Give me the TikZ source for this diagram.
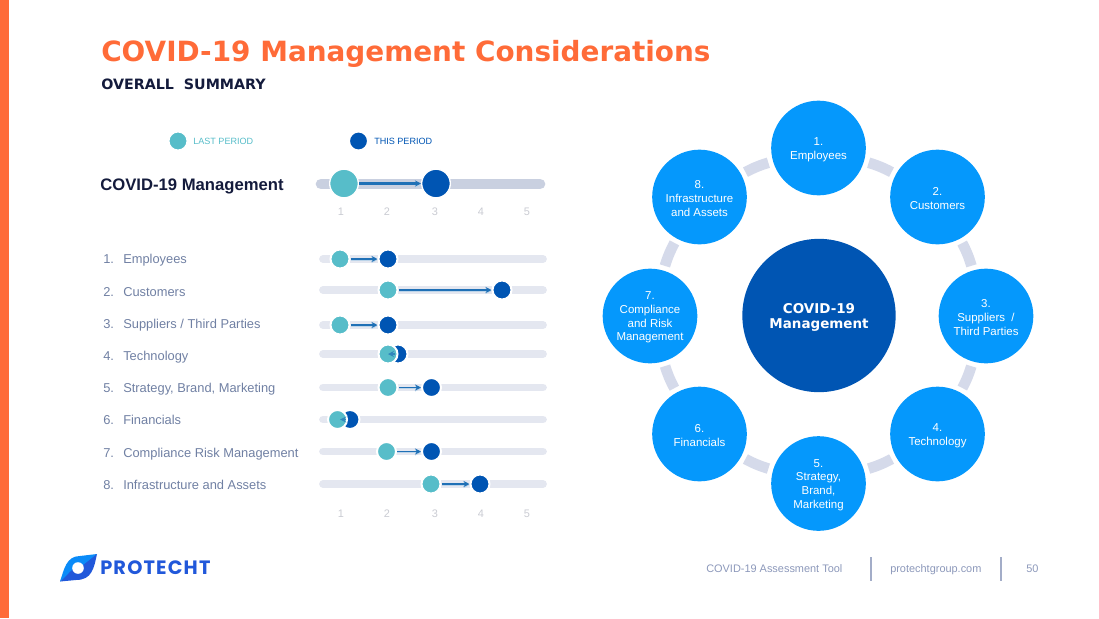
\documentclass[tikz,border=0pt]{standalone}
\usepackage{fontspec}
\setmainfont{Liberation Sans}
\newfontfamily\headfont{DejaVu Sans}
\newfontfamily\logofont[LetterSpace=6]{Poppins}
\usetikzlibrary{arrows.meta}
\definecolor{accent}{HTML}{FF6B38}
\definecolor{inkdark}{HTML}{141B3C}
\definecolor{lastcol}{HTML}{57BDC9}
\definecolor{thiscol}{HTML}{0055B3}
\definecolor{ringcol}{HTML}{0598FC}
\definecolor{linkcol}{HTML}{D5DAEA}
\definecolor{trackcol}{HTML}{E4E7F0}
\definecolor{maintrack}{HTML}{C9D0E0}
\definecolor{listcol}{HTML}{7080A3}
\definecolor{tickcol}{HTML}{C9CBD2}
\definecolor{footcol}{HTML}{8C98BA}
\definecolor{trendcol}{HTML}{1F70B6}
\definecolor{logocol}{HTML}{2158DA}
\definecolor{logolight}{HTML}{0A8BF8}
\tikzset{
	listlabel/.style={anchor=base west, inner sep=0pt, text=listcol, font=\fontsize{9.65pt}{11pt}\selectfont},
	ticklabel/.style={inner sep=0pt, text=tickcol, font=\fontsize{8.2pt}{10pt}\selectfont},
	footlabel/.style={anchor=base west, inner sep=0pt, text=footcol, font=\fontsize{8.2pt}{10pt}\selectfont},
	lastdot/.style={circle, fill=lastcol, draw=white, line width=1.5pt, inner sep=0pt, minimum size=14.25pt},
	thisdot/.style={circle, fill=thiscol, draw=white, line width=1.5pt, inner sep=0pt, minimum size=14.25pt},
	bigdot/.style={minimum size=21.5pt, line width=1pt},
	spoke/.style={circle, fill=ringcol, inner sep=0pt, minimum size=71pt},
	spoketext/.style={inner sep=0pt, align=center, text=white, font=\fontsize{8.6pt}{10.3pt}\selectfont},
	ringlink/.style={draw=linkcol, line width=8pt, shorten <=3.5pt, shorten >=3.5pt},
	track/.style={draw=trackcol, line width=5.8pt, line cap=round},
	trend/.style={draw=trendcol, line width=1.2pt, -{Stealth[length=4.5pt,width=4.5pt]}, preaction={draw=trendcol!30, transform canvas={yshift=-.8pt}}},
}
\begin{document}
\begin{tikzpicture}[x=.75pt, y=-.75pt]
	\useasboundingbox (0,0) rectangle (1099,618);
	\fill[accent] (0,0) rectangle (8.5,618);

	\node[anchor=west, inner sep=0pt, text=accent, font=\headfont\bfseries\fontsize{20.9pt}{24pt}\selectfont] (title) at (101,54) {COVID-19 Management Considerations};
	\node[anchor=west, inner sep=0pt, text=inkdark, font=\headfont\bfseries\fontsize{10.7pt}{13pt}\selectfont] (subtitle) at (101,84) {OVERALL\ \ SUMMARY};

	\node[lastdot] (keylast) at (178,141) {};
	\node[anchor=west, inner sep=0pt, text=lastcol, font=\fontsize{6.8pt}{9pt}\selectfont] (keylasttext) at (193,141) {LAST PERIOD};
	\node[thisdot] (keythis) at (358.5,141) {};
	\node[anchor=west, inner sep=0pt, text=thiscol, font=\fontsize{6.8pt}{9pt}\selectfont] (keythistext) at (374,141) {THIS PERIOD};

	\node[anchor=west, inner sep=0pt, text=inkdark, font=\bfseries\fontsize{12.5pt}{15pt}\selectfont] (mainlabel) at (100,186) {COVID-19 Management};
	\draw[track, draw=maintrack, line width=8pt] (321,184) -- (540,184);
	\node[lastdot, bigdot] (mainlast) at (344,183.5) {};
	\node[thisdot, bigdot] (mainthis) at (436,183.5) {};
	\draw[trend, line width=1.6pt] (mainlast) -- (mainthis);

	\foreach \i/\x in {1/341,2/387,3/435,4/481,5/527}{
		\node[ticklabel] (toptick\i) at (\x,211.5) {\i};
		\node[ticklabel] (lowtick\i) at (\x,513.5) {\i};
	}

	\foreach \i/\txt/\ty/\by/\lastx/\thisx in {
		1/Employees/259/259/340/388,
		2/Customers/292/290/388/502,
		3/{Suppliers / Third Parties}/324/325/340/388,
		4/Technology/356/354/388/398,
		5/{Strategy, Brand, Marketing}/388/387.5/388/431.5,
		6/Financials/420/419.5/337.5/350,
		7/Compliance Risk Management/453/451.5/386.5/431.5,
		8/Infrastructure and Assets/484.5/484/431/480}{
		\node[listlabel] (num\i) at (103,\ty+4.5) {\i.};
		\node[listlabel] (item\i) at (123,\ty+4.5) {\txt};
		\draw[track] (323,\by) -- (543,\by);
		\node[thisdot] (this\i) at (\thisx,\by) {};
		\node[lastdot] (last\i) at (\lastx,\by) {};
	}
	\foreach \i in {1,2,3,5,7,8}
	\draw[trend] (last\i) -- (this\i);
	\draw[draw=trendcol!70!lastcol, line width=1pt, -{Stealth[length=4.5pt,width=4.5pt]}, shorten <=2.2pt] (this4.center) -- (last4.center);
	\draw[draw=trendcol!70!lastcol, line width=1pt, -{Stealth[length=4.5pt,width=4.5pt]}, shorten <=3pt, shorten >=2pt] (this6.center) -- (last6.center);

	\node[circle, fill=thiscol, inner sep=0pt, minimum size=115pt] (hub) at (819,315.5) {};
	\node[spoketext, font=\headfont\bfseries\fontsize{10.1pt}{11.3pt}\selectfont] (hubtext) at (819,317.3) {COVID-19\\Management};

	\foreach \name/\x/\y/\txt in {
		emp/818.5/148/{1.\\Employees},
		cust/937.5/197/{2.\\Customers},
		supp/986/316/{3.\\Suppliers\ \ /\\Third Parties},
		tech/937.5/434/{4.\\Technology},
		strat/818.5/483.5/{5.\\Strategy,\\Brand,\\Marketing},
		fin/699.5/434/{6.\\Financials},
		comp/650/316/{7.\\Compliance\\and Risk\\Management},
		infra/699.5/197/{8.\\Infrastructure\\and Assets}}{
		\node[spoke] (\name) at (\x,\y) {};
		\node[spoketext] (\name text) at (\x,\y+1.5) {\txt};
	}
	\foreach \a/\b in {emp/cust,cust/supp,supp/tech,tech/strat,strat/fin,fin/comp,comp/infra,infra/emp}
	\draw[ringlink] (\a) to[bend left=6] (\b);

	\fill[logolight] (60,581.5) .. controls (64,570) and (66,556) .. (80,556) -- (97,554) .. controls (90,562) and (88,570) .. (78,570) -- cycle;
	\fill[logocol] (97,554) .. controls (94,568) and (92,580) .. (76,580) -- (60,581.5) .. controls (68,576) and (72,566) .. (82,566) -- cycle;
	\fill[white] (78,568) circle (5.8);
	\node[anchor=west, inner sep=0pt, text=logocol, font=\logofont\bfseries\fontsize{14.5pt}{16pt}\selectfont] (logotext) at (100,568) {PROTECHT};

	\node[footlabel] (foottool) at (706,572.5) {COVID-19 Assessment Tool};
	\node[footlabel] (footsite) at (890,572.5) {protechtgroup.com};
	\node[footlabel] (footpage) at (1026,572.5) {50};
	\draw[footcol!80, line width=.8pt] (871,557) -- (871,581);
	\draw[footcol!80, line width=.8pt] (1001,557) -- (1001,581);
\end{tikzpicture}
\end{document}
